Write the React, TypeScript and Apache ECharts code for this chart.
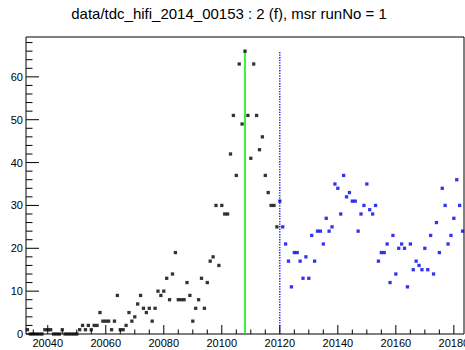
import React, { useEffect, useRef } from "react";
import * as echarts from "echarts";

const TITLE = "data/tdc_hifi_2014_00153 : 2 (f), msr runNo = 1";

// axis ranges
const X_MIN = 20032.5;
const X_MAX = 20183.5;
const Y_MIN = 0;
const Y_MAX = 69.3;

// histogram bins (1 unit wide, integer centres)
const blackStart = 20033;
const blackCounts = [
  1, 0, 0, 0, 0, 0, 1, 1, 1, 0,
  0, 0, 1, 0, 0, 0, 0, 0, 1, 2,
  1, 2, 1, 2, 2, 5, 3, 3, 3, 1,
  3, 9, 1, 1, 2, 5, 3, 4, 7, 9,
  6, 5, 6, 3, 6, 10, 9, 10, 13, 8,
  14, 19, 8, 8, 8, 12, 9, 3, 6, 8,
  13, 6, 12, 17, 18, 30, 16, 30, 28, 28,
  42, 51, 37, 63, 49, 66, 51, 41, 63, 51,
  43, 46, 37, 33, 30, 30, 25,
];
const blueStart = 20120;
const blueCounts = [
  31, 25, 21, 17, 11, 19, 19, 17, 13, 18,
  13, 23, 17, 24, 24, 21, 27, 24, 25, 35,
  34, 28, 37, 32, 33, 31, 31, 24, 28, 30,
  35, 29, 28, 30, 17, 19, 19, 21, 12, 23,
  14, 20, 21, 20, 11, 21, 15, 17, 16, 15,
  20, 15, 23, 14, 26, 19, 34, 30, 21, 23,
  27, 36, 30, 24,
];

// vertical marker lines
const t0Bin = 20108;
const dataStartBin = 20120;
const markerTop = 66;

// tick labels
const xTickLabels = [20040, 20060, 20080, 20100, 20120, 20140, 20160, 20180];
const yTickLabels = [0, 10, 20, 30, 40, 50, 60];
const X_MINOR_STEP = 5;
const Y_MINOR_STEP = 2;

const FONT = '"Liberation Sans", Arial, Helvetica, sans-serif';

function buildTicks(lo: number, hi: number, step: number, majors: number[]) {
  const out: number[][] = [];
  const start = Math.ceil(lo / step) * step;
  for (let v = start; v <= hi + 1e-9; v += step) {
    out.push([v, majors.indexOf(v) >= 0 ? 1 : 0]);
  }
  return out;
}

export default function App() {
  const ref = useRef<HTMLDivElement>(null);

  useEffect(() => {
    if (!ref.current) return;
    const chart = echarts.init(ref.current, undefined, { renderer: "svg" });

    const black = blackCounts.map((v, i) => [blackStart + i, v]);
    const blue = blueCounts.map((v, i) => [blueStart + i, v]);
    const xTicks = buildTicks(X_MIN, X_MAX, X_MINOR_STEP, xTickLabels);
    const yTicks = buildTicks(Y_MIN, Y_MAX, Y_MINOR_STEP, yTickLabels);

    const option: any = {
      animation: false,
      backgroundColor: "#fff",
      graphic: [
        {
          type: "text",
          x: 229,
          y: 13,
          style: {
            text: TITLE,
            font: `15px ${FONT}`,
            fill: "#000",
            align: "center",
            verticalAlign: "middle",
          },
        },
      ],
      grid: {
        left: 26,
        right: 1,
        top: 37,
        bottom: 16,
        show: true,
        borderColor: "#000",
        borderWidth: 1,
        backgroundColor: "transparent",
      },
      xAxis: {
        type: "value",
        min: X_MIN,
        max: X_MAX,
        axisLine: { show: false },
        axisTick: { show: false },
        axisLabel: { show: false },
        splitLine: { show: false },
      },
      yAxis: {
        type: "value",
        min: Y_MIN,
        max: Y_MAX,
        axisLine: { show: false },
        axisTick: { show: false },
        axisLabel: { show: false },
        splitLine: { show: false },
      },
      series: [
        {
          type: "line",
          data: [
            [t0Bin, Y_MIN],
            [t0Bin, markerTop],
          ],
          symbol: "none",
          lineStyle: { color: "#00ee00", width: 1.5 },
          z: 1,
        },
        {
          type: "line",
          data: [
            [dataStartBin, Y_MIN],
            [dataStartBin, markerTop],
          ],
          symbol: "none",
          lineStyle: { color: "#0000ff", width: 1.3, type: [1.3, 1.3] },
          z: 1,
        },
        {
          type: "scatter",
          data: black,
          symbol: "rect",
          symbolSize: 3.3,
          itemStyle: { color: "#000" },
          z: 3,
        },
        {
          type: "scatter",
          data: blue,
          symbol: "rect",
          symbolSize: 3.3,
          itemStyle: { color: "#0000ee" },
          z: 3,
        },
        {
          type: "custom",
          data: xTicks,
          z: 4,
          renderItem: (_p: any, api: any) => {
            const v = api.value(0);
            const major = api.value(1) === 1;
            const p = api.coord([v, Y_MIN]);
            const len = major ? 9 : 4.5;
            const children: any[] = [
              {
                type: "line",
                shape: { x1: p[0], y1: p[1], x2: p[0], y2: p[1] - len },
                style: { stroke: "#000", lineWidth: 1 },
              },
            ];
            if (major) {
              children.push({
                type: "text",
                x: p[0],
                y: p[1] + 9,
                style: {
                  text: String(v),
                  font: `11px ${FONT}`,
                  fill: "#000",
                  align: "center",
                  verticalAlign: "middle",
                },
              });
            }
            return { type: "group", children };
          },
        },
        {
          type: "custom",
          data: yTicks.map((t) => [X_MIN, t[0], t[1]]),
          z: 4,
          renderItem: (_p: any, api: any) => {
            const v = api.value(1);
            const major = api.value(2) === 1;
            const p = api.coord([X_MIN, v]);
            const len = major ? 13 : 6.5;
            const children: any[] = [
              {
                type: "line",
                shape: { x1: p[0], y1: p[1], x2: p[0] + len, y2: p[1] },
                style: { stroke: "#000", lineWidth: 1 },
              },
            ];
            if (major) {
              children.push({
                type: "text",
                x: p[0] - 3,
                y: p[1],
                style: {
                  text: String(v),
                  font: `11px ${FONT}`,
                  fill: "#000",
                  align: "right",
                  verticalAlign: "middle",
                },
              });
            }
            return { type: "group", children };
          },
        },
      ],
    };

    chart.setOption(option);
    return () => chart.dispose();
  }, []);

  return (
    <div
      ref={ref}
      style={{ position: "fixed", left: 0, top: 0, width: 465, height: 350 }}
    />
  );
}
